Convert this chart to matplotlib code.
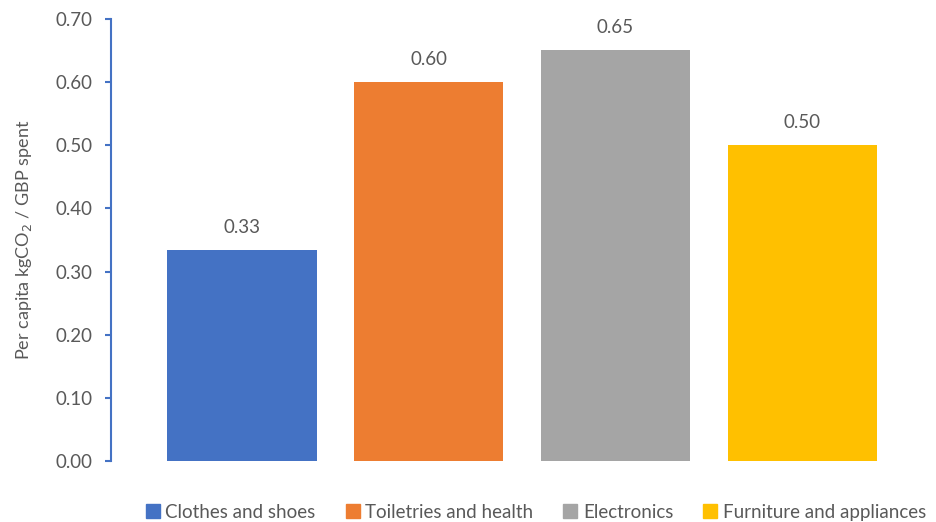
import matplotlib.pyplot as plt
from matplotlib.patches import Patch

categories = ["Clothes and shoes", "Toiletries and health", "Electronics", "Furniture and appliances"]
values = [0.334, 0.60, 0.651, 0.50]
colors = ["#4472C4", "#ED7D31", "#A5A5A5", "#FFC000"]
yticks = [0.0, 0.1, 0.2, 0.3, 0.4, 0.5, 0.6, 0.7]

txt = "#595959"
plt.rcParams['font.family'] = ['Lato', 'DejaVu Sans']

fig = plt.figure(figsize=(9.36, 5.22), dpi=100)
ax = fig.add_axes([0.1186, 0.1169, 0.8784, 0.8467])

x = range(len(categories))
bars = ax.bar(x, values, width=0.8, color=colors)
for b, v in zip(bars, values):
    ax.text(b.get_x() + b.get_width() / 2, v + 0.022, f"{v:.2f}",
            ha="center", va="bottom", fontsize=13.5, color=txt)

ax.set_xlim(-0.7, 3.7)
ax.set_ylim(0, 0.7)
ax.set_yticks(yticks)
ax.set_yticklabels([f"{t:.2f}" for t in yticks], fontsize=13.5, color=txt)
ax.set_xticks([])
for s in ["top", "right", "bottom"]:
    ax.spines[s].set_visible(False)
ax.spines["left"].set_color("#4472C4")
ax.spines["left"].set_linewidth(1.5)
ax.tick_params(axis="y", colors="#4472C4", length=4, width=1.5, labelcolor=txt, pad=9)
ax.set_ylabel("Per capita kgCO$_2$ / GBP spent", fontsize=13, color=txt, labelpad=16)

handles = [Patch(color=c, label=l) for c, l in zip(colors, categories)]
fig.legend(handles=handles, loc="lower center", bbox_to_anchor=(0.5726, -0.03), ncol=4,
           frameon=False, fontsize=13.5, labelcolor=txt, handlelength=0.75, handleheight=0.75,
           handletextpad=0.3, columnspacing=1.6)

fig.savefig("out.png", dpi=100)
